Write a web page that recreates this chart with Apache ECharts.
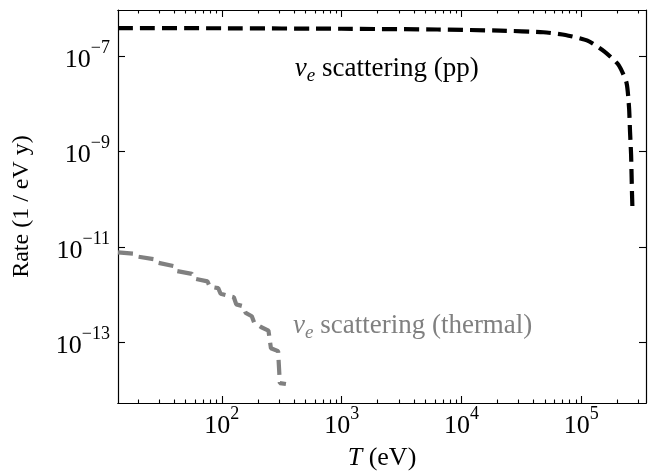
<!DOCTYPE html>
<html>
<head>
<meta charset="utf-8">
<script src="https://cdn.jsdelivr.net/npm/echarts@6/dist/echarts.min.js"></script>
<style>
  html, body { margin: 0; padding: 0; background: #fff; }
  #chart { width: 652px; height: 475px; }
</style>
</head>
<body>
<div id="chart"></div>
<script>
// recoil energy T (eV) and rate (1 / eV y)
const ppT = [13.6, 100, 1000, 6300, 21100, 48300, 73800, 112700, 156300, 204600, 238800, 250600, 255300, 260600, 263000, 265500, 267900];
const ppRate = [3.89e-7, 3.85e-7, 3.76e-7, 3.63e-7, 3.44e-7, 3.18e-7, 2.79e-7, 2.12e-7, 1.25e-7, 6.58e-8, 2.76e-8, 8.26e-9, 2.63e-9, 8.55e-10, 3.26e-10, 1.18e-10, 5.47e-11];

const thermalT = [13.6, 19.1, 20.0, 28.2, 29.5, 39.8, 41.7, 56.2, 58.9, 75.9, 79.4, 93.3, 97.7, 126, 132, 151, 158, 178, 186, 214, 245, 257, 295, 305, 343];
const thermalRate = [7.76e-12, 7.24e-12, 6.31e-12, 5.50e-12, 4.68e-12, 3.98e-12, 3.16e-12, 2.75e-12, 2.19e-12, 1.91e-12, 1.48e-12, 1.38e-12, 1.05e-12, 8.9e-13, 6.3e-13, 5.75e-13, 4.17e-13, 3.55e-13, 2.63e-13, 2.09e-13, 1.78e-13, 7.6e-14, 6.6e-14, 1.41e-14, 1.35e-14];

// decade exponents that carry ticks / labels
const xTickExp = [2, 3, 4, 5];
const yTickExp = [-13, -11, -9, -7];
const xRange = [13.6, 3.47e5];
const yRange = [5.4e-15, 9.3e-7];

const FONT = 'Liberation Serif';
const lg = Math.log10;

// minor ticks at 2..9 x 10^n inside the x range
const xMinor = [];
for (let n = 1; n <= 5; n++) {
    for (let k = 2; k <= 9; k++) {
        const v = lg(k * Math.pow(10, n));
        if (v > lg(xRange[0]) && v < lg(xRange[1])) xMinor.push(v);
    }
}

const pow10Label = v => {
    const e = Math.round(v);
    return '{b|10}{s|' + (e < 0 ? '\u2212' + (-e) : e) + '}';
};
const labelRich = {
    b: { fontFamily: FONT, fontSize: 26, color: '#000', verticalAlign: 'bottom', lineHeight: 34 },
    s: { fontFamily: FONT, fontSize: 18, color: '#000', verticalAlign: 'top', lineHeight: 18 }
};

const line = { show: true, lineStyle: { color: '#000', width: 1.2 } };

function xAxisDef(pos, values, len, withLabel) {
    return {
        type: 'value', position: pos, gridIndex: 0,
        min: lg(xRange[0]), max: lg(xRange[1]),
        axisLine: line,
        splitLine: { show: false },
        axisTick: { show: true, inside: true, length: len, customValues: values, lineStyle: { color: '#000', width: 1.1 } },
        axisLabel: withLabel
            ? { show: true, customValues: values, formatter: pow10Label, rich: labelRich, margin: 2 }
            : { show: false }
    };
}

const chart = echarts.init(document.getElementById('chart'), null, { renderer: 'canvas' });
chart.setOption({
    animation: false,
    backgroundColor: '#fff',
    grid: { left: 118, top: 10, right: 6, bottom: 72, containLabel: false, outerBoundsMode: 'none' },
    xAxis: [
        Object.assign(xAxisDef('bottom', xTickExp, 7, true), {
            name: '{i|T}{n| (eV)}', nameLocation: 'middle', nameGap: 42,
            nameTextStyle: { rich: {
                i: { fontFamily: FONT, fontSize: 26, fontStyle: 'italic', color: '#000' },
                n: { fontFamily: FONT, fontSize: 26, color: '#000' }
            } }
        }),
        xAxisDef('bottom', xMinor, 3.5, false),
        xAxisDef('top', xTickExp, 7, false),
        xAxisDef('top', xMinor, 3.5, false)
    ],
    yAxis: [
        {
            type: 'value', position: 'left',
            min: lg(yRange[0]), max: lg(yRange[1]),
            axisLine: line, splitLine: { show: false },
            axisTick: { show: true, inside: true, length: 7, customValues: yTickExp, lineStyle: { color: '#000', width: 1.1 } },
            axisLabel: { show: true, customValues: yTickExp, formatter: pow10Label, rich: labelRich, margin: 8 },
            name: 'Rate (1 / eV y)', nameLocation: 'middle', nameGap: 84, nameRotate: 90,
            nameTextStyle: { fontFamily: FONT, fontSize: 24, color: '#000' }
        },
        {
            type: 'value', position: 'right',
            min: lg(yRange[0]), max: lg(yRange[1]),
            axisLine: line, splitLine: { show: false },
            axisTick: { show: true, inside: true, length: 7, customValues: yTickExp, lineStyle: { color: '#000', width: 1.1 } },
            axisLabel: { show: false }
        }
    ],
    series: [
        {
            name: 'pp', type: 'line', showSymbol: false, smooth: 0.2,
            data: ppT.map((t, i) => [lg(t), lg(ppRate[i])]),
            lineStyle: { color: '#000', width: 4.2, type: [15, 7], cap: 'butt' }
        },
        {
            name: 'thermal', type: 'line', showSymbol: false,
            data: thermalT.map((t, i) => [lg(t), lg(thermalRate[i])]),
            lineStyle: { color: '#808080', width: 4.2, type: [15, 7], cap: 'butt' }
        }
    ]
});

// curve annotations, anchored in data coordinates
function note(text, color, at) {
    const p = chart.convertToPixel({ gridIndex: 0 }, [lg(at[0]), lg(at[1])]);
    return {
        type: 'text', x: p[0], y: p[1],
        style: {
            text: '{nu|\u03bd}{e|e}{t| ' + text + '}',
            verticalAlign: 'middle', align: 'left',
            rich: {
                nu: { fontFamily: FONT, fontStyle: 'italic', fontSize: 27, fill: color, verticalAlign: 'top', lineHeight: 30 },
                e: { fontFamily: FONT, fontStyle: 'italic', fontSize: 19, fill: color, verticalAlign: 'bottom', lineHeight: 30 },
                t: { fontFamily: FONT, fontSize: 27, fill: color, verticalAlign: 'top', lineHeight: 30 }
            }
        }
    };
}
chart.setOption({
    graphic: [
        note('scattering (pp)', '#000', [407, 5.1e-8]),
        note('scattering (thermal)', '#808080', [393, 2.1e-13])
    ]
});
</script>
</body>
</html>
